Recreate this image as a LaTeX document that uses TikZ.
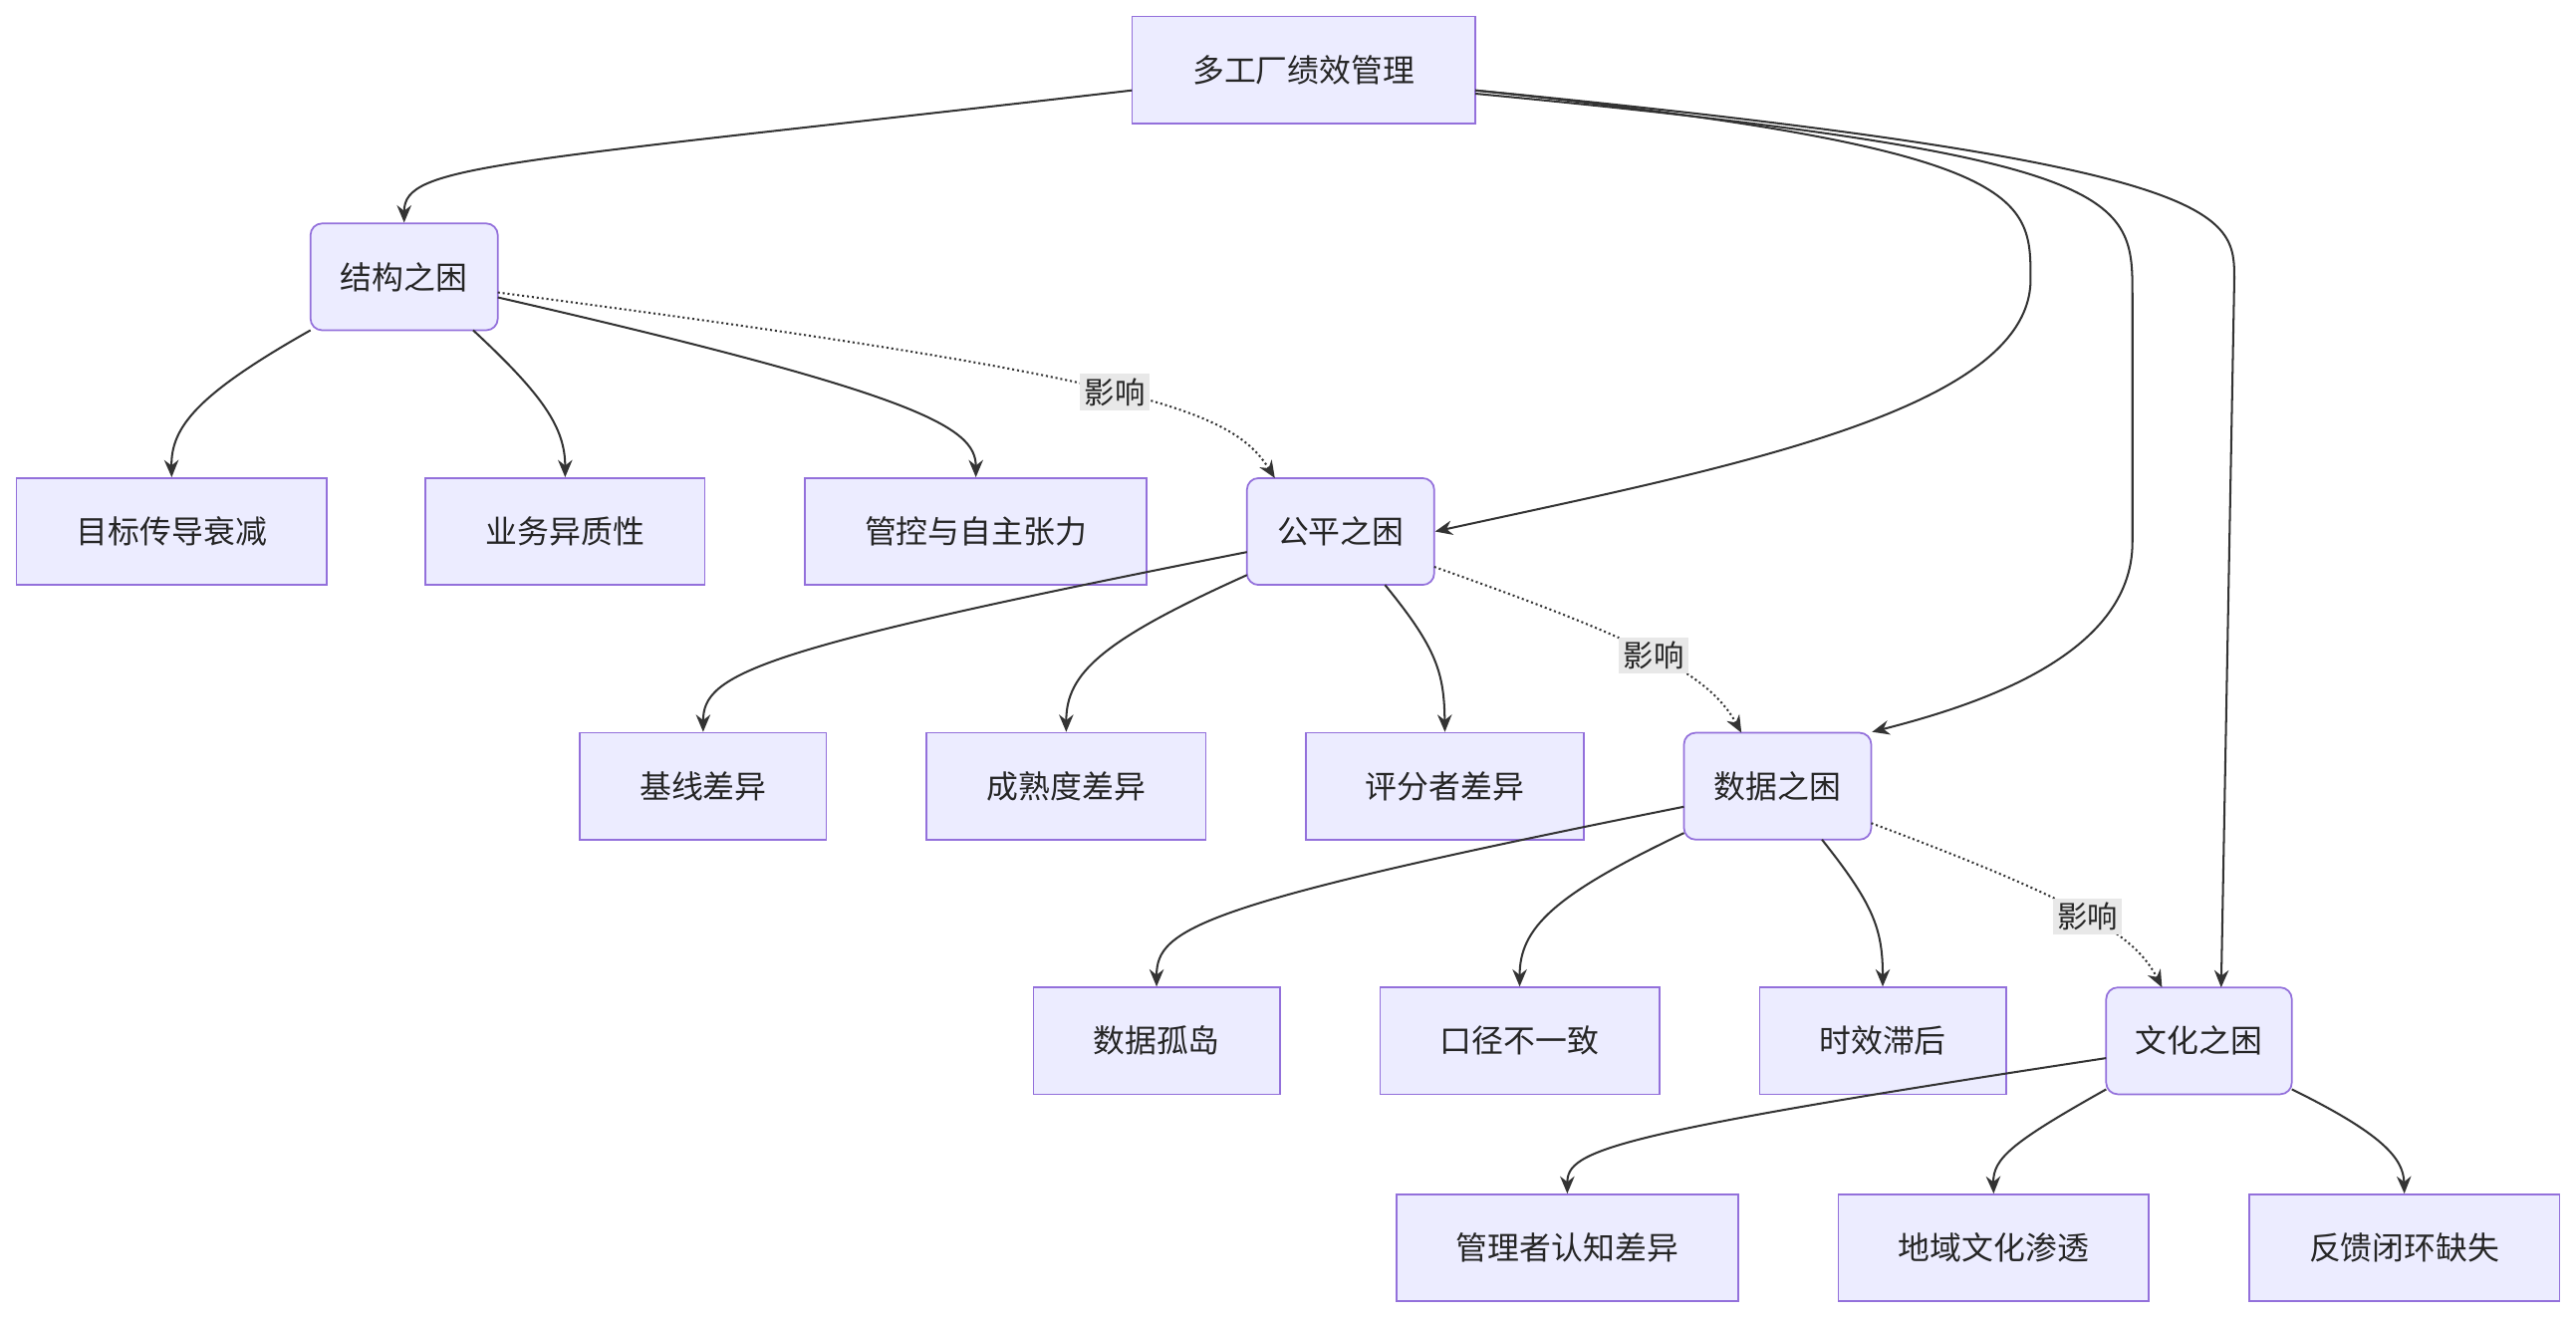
\documentclass[tikz,border=0pt]{standalone}
\usepackage{fontspec}
\setmainfont{Noto Sans CJK SC}
\usetikzlibrary{arrows.meta}
\definecolor{boxfill}{HTML}{ECECFF}
\definecolor{boxline}{HTML}{9370DB}
\definecolor{edge}{HTML}{333333}
\tikzset{
  box/.style={draw=boxline, fill=boxfill, line width=0.6pt, minimum height=1.3cm,
    inner sep=0pt, font=\fontsize{11}{13}\selectfont, text=black!85},
  soft/.style={box, rounded corners=4pt},
  link/.style={draw=edge, line width=0.7pt, -{Stealth[length=6pt,width=5pt]}},
  hint/.style={link, densely dotted},
  tag/.style={fill=black!9, inner sep=1.5pt, font=\fontsize{10.5}{12}\selectfont, text=black!85}
}
\begin{document}
\begin{tikzpicture}[x=0.02cm, y=-0.02cm]
  \useasboundingbox (0,0) rectangle (1568,803);

  \node[box, minimum width=4.18cm] (top) at (793.5,42.5) {多工厂绩效管理};

  \node[soft, minimum width=2.28cm] (jg) at (246,168.5) {结构之困};
  \node[box, minimum width=3.78cm] (mb) at (104.5,323.5) {目标传导衰减};
  \node[box, minimum width=3.4cm] (yw) at (344,323.5) {业务异质性};
  \node[box, minimum width=4.16cm] (gk) at (594,323.5) {管控与自主张力};

  \node[soft, minimum width=2.28cm] (gp) at (816,323.5) {公平之困};
  \node[box, minimum width=3cm] (jx) at (428,478.5) {基线差异};
  \node[box, minimum width=3.4cm] (cs) at (649,478.5) {成熟度差异};
  \node[box, minimum width=3.38cm] (pf) at (879.5,478.5) {评分者差异};

  \node[soft, minimum width=2.28cm] (sj) at (1082,478.5) {数据之困};
  \node[box, minimum width=3cm] (gd) at (704,633.5) {数据孤岛};
  \node[box, minimum width=3.4cm] (kj) at (925,633.5) {口径不一致};
  \node[box, minimum width=3cm] (sx) at (1146,633.5) {时效滞后};

  \node[soft, minimum width=2.26cm] (wh) at (1338.5,633.5) {文化之困};
  \node[box, minimum width=4.16cm] (gl) at (954,759.5) {管理者认知差异};
  \node[box, minimum width=3.78cm] (dy) at (1213.5,759.5) {地域文化渗透};
  \node[box, minimum width=3.78cm] (fk) at (1463.5,759.5) {反馈闭环缺失};

  % top level
  \draw[link] (689,55) .. controls (300,100) and (246,100) .. (jg.north);
  \draw[link] (898,55) .. controls (1236,90) and (1236,120) .. (1236,170)
    .. controls (1236,250) and (1050,285) .. (gp.east);
  \draw[link] (898,57) .. controls (1298,95) and (1298,120) .. (1298,180)
    -- (1298,330) .. controls (1298,400) and (1200,430) .. (sj.north east);
  \draw[link] (898,55) .. controls (1360,100) and (1360,130) .. (1360,170)
    -- (1352,601);

  % branches
  \draw[link] (189,201) .. controls (120,240) and (104,260) .. (mb.north);
  \draw[link] (288,201) .. controls (330,240) and (344,260) .. (yw.north);
  \draw[link] (303,181) .. controls (560,240) and (594,260) .. (gk.north);
  \draw[hint] (303,178) .. controls (700,230) and (750,250) .. (776,291)
    node[tag, pos=0.5] {影响};

  \draw[link] (759,336) .. controls (460,395) and (428,410) .. (jx.north);
  \draw[link] (759,350) .. controls (670,390) and (649,410) .. (cs.north);
  \draw[link] (843,356) .. controls (875,395) and (879,410) .. (pf.north);
  \draw[hint] (873,345) .. controls (1000,390) and (1040,410) .. (1060,446)
    node[tag, pos=0.5] {影响};

  \draw[link] (1025,491) .. controls (730,550) and (704,565) .. (gd.north);
  \draw[link] (1025,507) .. controls (945,545) and (925,565) .. (kj.north);
  \draw[link] (1109,511) .. controls (1140,550) and (1146,565) .. (sx.north);
  \draw[hint] (1139,501) .. controls (1270,550) and (1300,570) .. (1316,601)
    node[tag, pos=0.5] {影响};

  \draw[link] (1282,644) .. controls (980,690) and (954,700) .. (gl.north);
  \draw[link] (1282,663) .. controls (1225,695) and (1213,705) .. (dy.north);
  \draw[link] (1395,663) .. controls (1450,690) and (1463,705) .. (fk.north);
\end{tikzpicture}
\end{document}
